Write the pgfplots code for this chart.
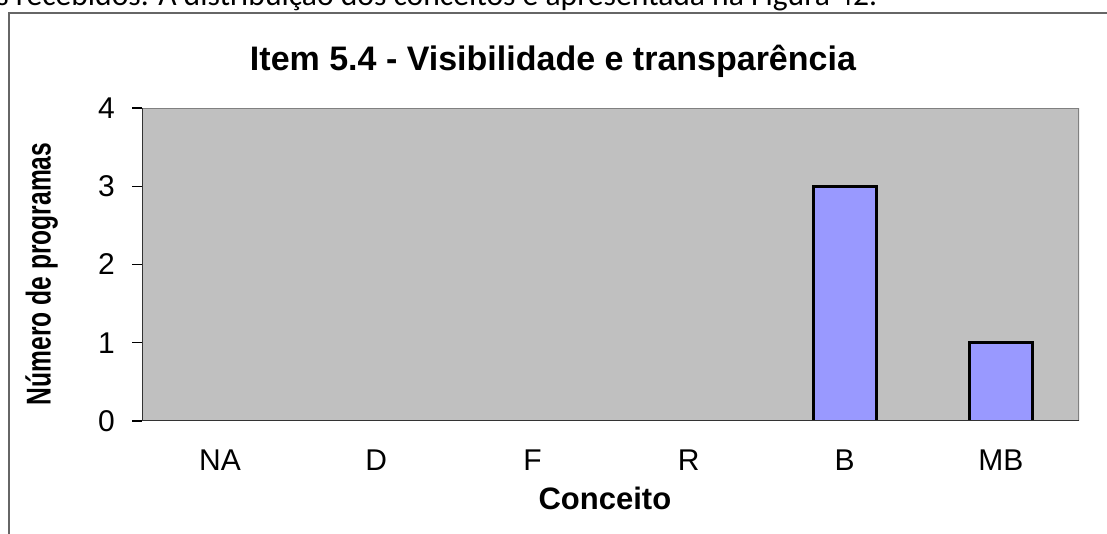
\documentclass[border=0pt]{standalone}
\usepackage{pgfplots}
\pgfplotsset{compat=1.18}
\usepackage{fontspec}
\setmainfont{Liberation Sans}
\newfontfamily\bodyfont{Carlito}
\definecolor{plotbg}{HTML}{C0C0C0}
\definecolor{barfill}{HTML}{9999FF}
\definecolor{framegray}{HTML}{666666}
\definecolor{edgegray}{HTML}{808080}

\begin{document}
\begin{tikzpicture}
% 1 px of the reference = 0.5pt
\path[use as bounding box] (0,0) rectangle (553.5pt,267pt);
\clip (0,0) rectangle (553.5pt,267pt);
\node[anchor=base west, inner sep=0pt, font=\bodyfont\fontsize{15.8}{18}\selectfont]
  at (-2pt,264pt) {s recebidos. A distribuição dos conceitos é apresentada na Figura 42.};
\draw[framegray, line width=1pt] (4.5pt,0) -- (4.5pt,260.5pt) -- (560pt,260.5pt);
\begin{axis}[
    at={(71pt,56.5pt)}, anchor=south west,
    scale only axis,
    width=468.5pt, height=156.5pt,
    axis background/.style={fill=plotbg},
    axis line style={draw=none},
    xmin=-0.5, xmax=5.5,
    ymin=0, ymax=4,
    xtick={0,1,2,3,4,5},
    xticklabels={NA,D,F,R,B,MB},
    major x tick style={draw=none},
    extra x ticks={-0.5,0.5,1.5,2.5,3.5,4.5,5.5},
    extra x tick labels={},
    extra x tick style={major tick length=5pt, tick style={black!75, line width=0.6pt}},
    ytick={0,1,2,3,4},
    tick align=outside,
    major tick length=5pt,
    tick style={black, line width=0.6pt},
    xtick pos=bottom, ytick pos=left,
    /pgf/number format/assume math mode=true,
    tick label style={font=\fontsize{15}{18}\selectfont},
    xticklabel style={anchor=base, yshift=-20pt},
    yticklabel style={anchor=east, xshift=-5pt},
    title={Item 5.4 - Visibilidade e transparência},
    title style={font=\bfseries\fontsize{17}{20}\selectfont, at={(rel axis cs:0.4386,1.08)}, anchor=base},
    xlabel={Conceito},
    xlabel style={font=\bfseries\fontsize{15.5}{18}\selectfont, at={(rel axis cs:0.494,-0.284)}, anchor=base},
    ylabel={\scalebox{1}[1.4]{\bfseries\fontsize{12.3}{15}\selectfont Número de programas}},
    ylabel style={at={(rel axis cs:-0.107,0.47)}, anchor=center, rotate=0},
]
\addplot[ybar, bar width=31.5pt, fill=barfill, draw=black, line width=1.3pt,
  y filter/.expression={y==0 ? nan : y}]
  coordinates {(0,0) (1,0) (2,0) (3,0) (4,3) (5,1)};
\draw[edgegray, line width=1pt] (rel axis cs:0,1) -- (rel axis cs:1,1) -- (rel axis cs:1,0);
\draw[black!80, line width=0.8pt] (rel axis cs:0,1) -- (rel axis cs:0,0) -- (rel axis cs:1,0);
\end{axis}
\end{tikzpicture}
\end{document}
